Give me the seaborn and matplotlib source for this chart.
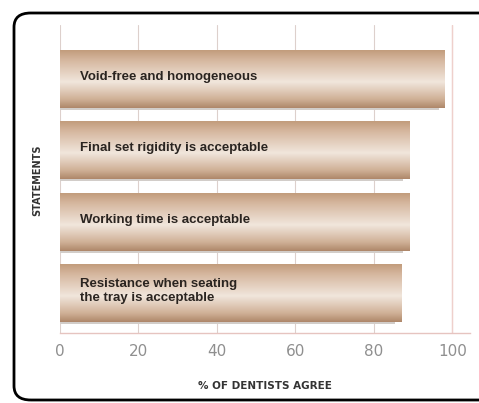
import numpy as np
import pandas as pd
import matplotlib
matplotlib.use("Agg")
import matplotlib.pyplot as plt
import seaborn as sns
from matplotlib.patches import FancyBboxPatch
from matplotlib.colors import LinearSegmentedColormap

statements = [
    "Void-free and homogeneous",
    "Final set rigidity is acceptable",
    "Working time is acceptable",
    "Resistance when seating\nthe tray is acceptable",
]
agree_pct = [98, 89, 89, 87]
x_ticks = [0, 20, 40, 60, 80, 100]

df = pd.DataFrame({"statement": statements, "pct": agree_pct})

sns.set_theme(style="white")
plt.rcParams["font.family"] = ["Liberation Sans Narrow", "Liberation Sans", "DejaVu Sans"]

fig = plt.figure(figsize=(4.79, 4.03), dpi=100)
ax = fig.add_axes([60 / 479, 70 / 403, 410 / 479, 308 / 403])

sns.barplot(data=df, x="pct", y="statement", orient="h", ax=ax,
            color="#c9a688", width=0.81, linewidth=0, zorder=2)

# gradient overlay clipped to each bar
cmap = LinearSegmentedColormap.from_list(
    "tan", [(0.0, "#c29c7c"), (0.18, "#d6b8a0"), (0.55, "#f1e6dc"),
            (0.85, "#cfb096"), (1.0, "#ae8769")])
grad = np.linspace(0, 1, 256).reshape(-1, 1)
for p in ax.patches:
    x0, y0 = p.get_x(), p.get_y()
    w, h = p.get_width(), p.get_height()
    # soft shadow under the bar
    ax.add_patch(plt.Rectangle((x0, y0 + h), w - 1.5, 0.028,
                               color="#d2cdc9", lw=0, zorder=1.5))
    im = ax.imshow(grad, extent=(x0, x0 + w, y0 + h, y0), aspect="auto",
                   cmap=cmap, zorder=2.5, origin="upper")
    im.set_clip_path(p)

ax.set_xlim(0, 104.5)
ax.set_ylim(3.56, -0.757)
ax.set_xticks(x_ticks)
ax.set_xticklabels([str(t) for t in x_ticks], color="#8f8f8f", fontsize=11,
                   family=["DejaVu Sans"])
ax.tick_params(axis="x", length=0, pad=8)
ax.set_yticks([])
ax.set_ylabel("")
ax.set_xlabel("% OF DENTISTS AGREE", fontsize=7.5, fontweight="bold",
              color="#333333", labelpad=16, family=["DejaVu Sans"])

for t in x_ticks:
    ax.axvline(t, color="#ddd0cc", lw=0.8, zorder=0.5)
for s in ["top", "left", "right"]:
    ax.spines[s].set_visible(False)
ax.spines["bottom"].set_color("#e6c4c0")
ax.spines["bottom"].set_linewidth(1.0)
ax.axvline(100, color="#efd0cc", lw=1.0, zorder=0.6)

for i, s in enumerate(statements):
    ax.text(5, i - 0.03, s, va="center", ha="left", fontsize=9.5,
            fontweight="bold", color="#2a2420", zorder=4, linespacing=1.3)

fig.text(37 / 479, 1 - 180 / 403, "STATEMENTS", rotation=90, va="center",
         ha="center", fontsize=7, fontweight="bold", color="#333333",
         family=["DejaVu Sans"])

frame = FancyBboxPatch((14 / 479, 3 / 403), 520 / 479, 387 / 403,
                       boxstyle="round,pad=0,rounding_size=0.035",
                       transform=fig.transFigure, fill=False,
                       edgecolor="black", lw=2.0, clip_on=False)
fig.patches.append(frame)

fig.savefig("out.png", dpi=100)
